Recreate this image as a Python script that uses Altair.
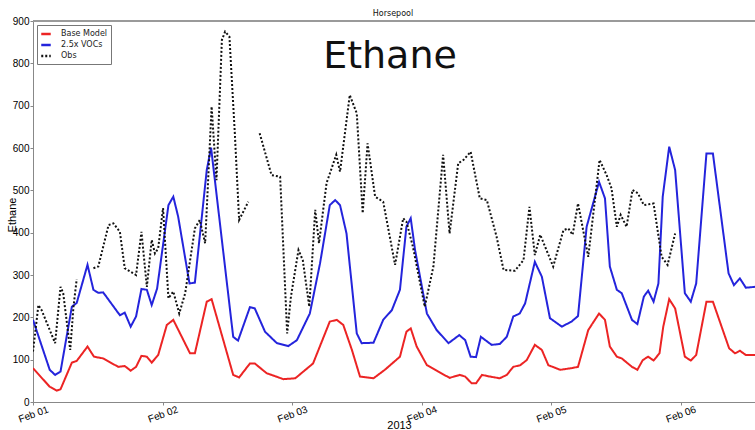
import altair as alt
import pandas as pd

# ---------------- data ----------------
series_names = ["Base Model", "2.5x VOCs", "Obs"]
series_colors = ["#ec2424", "#2424dc", "#111111"]

# hours since Feb 01 00:00, 2013
base_hours = [0, 3.1, 4.4, 5.1, 7.2, 8.1, 10.1, 11.3, 13, 15.8,
              17, 18.1, 19.1, 20.1, 21.1, 22, 23.2, 24.8, 26, 29.1,
              30, 32.2, 33.1, 37.1, 38.2, 40.2, 41.1, 43.3, 46.4, 48.6,
              51.9, 55, 56.3, 57.5, 59.1, 60.6, 63.1, 65.2, 68, 69.2,
              70, 71.1, 73, 75.1, 77.2, 79.1, 80.1, 81.3, 82.1, 83.2,
              84.7, 86.5, 87.8, 89, 90.3, 91.5, 93, 94.3, 95.5, 97.7,
              99.8, 101, 102.9, 104.9, 106, 106.9, 108.2, 109.1, 111, 112,
              113, 114, 115, 116.1, 116.8, 117.9, 119, 120.8, 121.9, 122.9,
              124.8, 126, 129, 130.1, 131, 132.1, 133.8]
base_values = [80, 36, 27, 30, 93, 97, 131, 107, 103, 83,
               85, 74, 83, 109, 107, 93, 111, 182, 194, 115,
               115, 237, 243, 64, 58, 91, 91, 68, 54, 56,
               91, 190, 194, 182, 123, 60, 56, 76, 107, 166,
               174, 131, 87, 72, 57, 64, 60, 44, 44, 64,
               60, 56, 64, 83, 87, 99, 135, 123, 87, 76,
               80, 83, 170, 209, 194, 131, 107, 103, 83, 76,
               99, 107, 98, 115, 178, 243, 221, 107, 98, 111,
               237, 237, 127, 115, 121, 111, 111]

voc_hours = [0, 3.1, 4.1, 5.1, 7.2, 8.1, 10.1, 11.2, 12.1, 13,
             16.1, 17, 18.1, 19.1, 20.1, 21.1, 22, 23, 25.1, 26,
             26.9, 29, 30, 32.2, 33.0, 37.1, 38, 40.2, 41.1, 43,
             45.2, 47.3, 48.9, 51.3, 53.2, 55, 56, 56.9, 58.1, 60,
             60.9, 63.1, 64.9, 66.5, 68, 69.2, 70, 70.8, 73, 74.8,
             77, 79, 80.1, 81.1, 82.1, 83, 85, 86.5, 87.8, 89,
             90.2, 91.2, 93, 94.3, 95.8, 98, 99.8, 101, 102.6, 104.9,
             106, 106.9, 108.2, 109.1, 111, 112, 113.2, 114, 115, 115.9,
             116.7, 117.9, 119, 120.8, 121.9, 122.9, 124.8, 126, 128.9, 129.9,
             131, 132.1, 133.8]
voc_values = [194, 76, 64, 72, 225, 234, 324, 265, 258, 259,
              205, 211, 178, 202, 267, 265, 229, 268, 465, 485,
              438, 280, 282, 548, 601, 154, 145, 224, 221, 166,
              139, 132, 146, 209, 328, 465, 477, 465, 398, 162,
              139, 140, 194, 217, 265, 414, 434, 359, 209, 170,
              139, 158, 146, 107, 106, 154, 135, 137, 154, 202,
              209, 233, 331, 296, 198, 178, 190, 203, 414, 520,
              481, 320, 265, 257, 194, 184, 249, 263, 237, 280,
              485, 603, 548, 257, 237, 280, 587, 587, 304, 276,
              292, 270, 272]

# observations come in three separate stretches (gaps in the record)
obs1_hours = [0, 1, 1.6, 4.1, 5.1, 5.6, 6.9, 7.5, 8.1]
obs1_values = [119, 229, 217, 139, 272, 257, 123, 225, 290]

obs2_hours = [11.2, 12.1, 14, 14.9, 16.1, 17, 19.1, 20.1, 21.1, 22,
              22.6, 23.2, 24.1, 25.1, 26, 27.1, 28.2, 30, 30.9, 31.9,
              33.1, 34.0, 35.0, 35.6, 36.4, 37.4, 38.2, 39.9]
obs2_values = [316, 320, 418, 422, 402, 316, 300, 402, 272, 383,
               351, 363, 458, 245, 261, 209, 257, 410, 430, 375,
               698, 524, 855, 875, 863, 635, 430, 473]

obs3_hours = [42, 44.2, 45.8, 47.1, 47.8, 49.2, 50, 51.2, 52.3, 53,
              54.4, 56.2, 56.9, 58.7, 60, 61.1, 62, 63.4, 64.9, 67.1,
              68.6, 69.2, 70.4, 72.6, 74.2, 76, 77.2, 78.8, 79.8, 81.1,
              82.8, 84.1, 85.9, 87.2, 89.3, 90.9, 92, 93, 94, 96.4,
              98.3, 99.2, 100, 101, 102.9, 105, 106.3, 107.2, 108.2, 108.9,
              110, 111.1, 112.1, 113.2, 115, 116.5, 117.6, 119]
obs3_values = [635, 536, 532, 162, 249, 359, 335, 225, 454, 375,
               517, 584, 544, 725, 682, 446, 611, 485, 473, 324,
               434, 426, 367, 225, 320, 584, 398, 564, 572, 591,
               481, 477, 391, 312, 310, 335, 461, 347, 395, 320,
               406, 410, 395, 469, 343, 572, 536, 505, 414, 442,
               414, 501, 493, 465, 469, 343, 324, 398]

day_ticks = [0, 24, 48, 72, 96, 120]
y_ticks = [0, 100, 200, 300, 400, 500, 600, 700, 800, 900]

# ---------------- table ----------------
rows = []
for h, v in zip(base_hours, base_values):
    rows.append({"hour": h, "value": v, "series": "Base Model", "seg": 0})
for h, v in zip(voc_hours, voc_values):
    rows.append({"hour": h, "value": v, "series": "2.5x VOCs", "seg": 0})
for seg, (hs, vs) in enumerate([(obs1_hours, obs1_values),
                                (obs2_hours, obs2_values),
                                (obs3_hours, obs3_values)]):
    for h, v in zip(hs, vs):
        rows.append({"hour": h, "value": v, "series": "Obs", "seg": seg})
df = pd.DataFrame(rows)

W, H = 722, 381
FONT = "DejaVu Sans"

x_enc = alt.X(
    "hour:Q",
    scale=alt.Scale(domain=[0, 133.8], nice=False, zero=False),
    axis=alt.Axis(values=day_ticks,
                  labelExpr="'Feb 0' + (datum.value / 24 + 1)",
                  labelAngle=-20, labelAlign="center", labelBaseline="middle",
                  labelPadding=9, tickSize=3, title="2013",
                  titleX=366, titleY=23, titleBaseline="middle",
                  titleAlign="center", titleFontWeight="normal",
                  grid=False),
)
y_enc = alt.Y(
    "value:Q",
    scale=alt.Scale(domain=[0, 900], nice=False),
    axis=alt.Axis(values=y_ticks, tickSize=3, labelPadding=1, title="Ethane",
                  titleX=-21, titleY=H / 2 + 3, titleBaseline="middle",
                  titleAlign="center", titleAngle=270,
                  titleFontWeight="normal", grid=False),
)
legend_cfg = dict(title=None, orient="top-left", offset=4,
                  symbolType="stroke", symbolSize=90, symbolStrokeWidth=2.5,
                  labelFontSize=8, labelFont=FONT, labelColor="#222",
                  labelOffset=9, rowPadding=0, padding=3,
                  strokeColor="#777", fillColor="white")
color_enc = alt.Color(
    "series:N",
    scale=alt.Scale(domain=series_names, range=series_colors),
    legend=alt.Legend(**legend_cfg),
)
dash_enc = alt.StrokeDash(
    "series:N",
    scale=alt.Scale(domain=series_names, range=[[1, 0], [1, 0], [2, 2]]),
    legend=alt.Legend(**legend_cfg),
)

base = alt.Chart(df)


def series_layer(name, width):
    return base.transform_filter(alt.datum.series == name).mark_line(
        strokeWidth=width, clip=True, strokeCap="butt"
    ).encode(x=x_enc, y=y_enc, color=color_enc, strokeDash=dash_enc,
             detail="seg:N", order="hour:Q")


frame_top = base.mark_rule(color="#9a9a9a", strokeWidth=1.2).encode(
    x=alt.value(0), x2=alt.value(W), y=alt.value(0)
)

overlay = alt.Chart(pd.DataFrame({"label": ["Ethane"]})).mark_text(
    font=FONT, fontSize=38, color="#111", align="center", baseline="alphabetic"
).encode(x=alt.value(357), y=alt.value(47), text="label:N")

title_text = alt.Chart(pd.DataFrame({"label": ["Horsepool"]})).mark_text(
    font=FONT, fontSize=8, color="#111", align="center", baseline="middle"
).encode(x=alt.value(360), y=alt.value(-7), text="label:N")

chart = alt.layer(
    series_layer("Base Model", 2),
    series_layer("2.5x VOCs", 2),
    series_layer("Obs", 2),
    frame_top,
    overlay,
    title_text,
).properties(
    width=W, height=H,
    autosize=alt.AutoSizeParams(type="none"),
    padding={"left": 33, "top": 21, "right": 0, "bottom": 28},
).configure_view(stroke=None).configure_axis(
    domainColor="#9a9a9a", domainWidth=1.2, tickColor="#777",
    labelFont=FONT, labelFontSize=7, labelColor="#444",
    titleFont=FONT, titleFontSize=8, titleFontWeight="normal", titleColor="#333",
).configure(background="white")

chart.save("out.html", embed_options={"renderer": "svg", "actions": False})
